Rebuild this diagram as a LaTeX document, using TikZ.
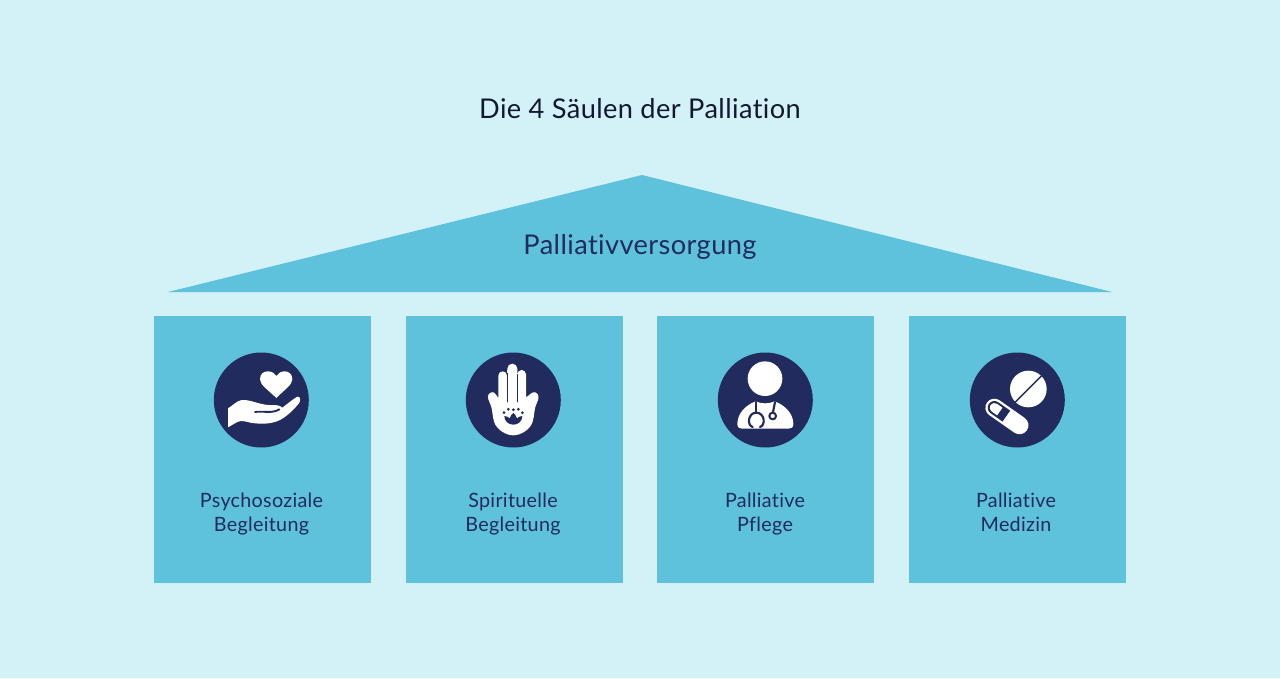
\documentclass[tikz,border=0pt]{standalone}
\usepackage{fontspec}
\setmainfont[Ligatures=NoCommon,LetterSpace=1.5]{Lato}
\definecolor{bgc}{HTML}{D3F2F8}
\definecolor{tile}{HTML}{5FC2DD}
\definecolor{navy}{HTML}{212B5E}
\definecolor{ink}{HTML}{14182E}
\tikzset{
  pillar/.style={fill=tile,draw=none,minimum width=162.75pt,minimum height=200.25pt,inner sep=0pt,outer sep=0pt},
  disc/.style={circle,fill=navy,draw=none,minimum size=71.25pt,inner sep=0pt},
  plabel/.style={text=navy,align=center,font=\fontsize{14.8pt}{18.2pt}\selectfont,text depth=0pt},
  bigtext/.style={font=\fontsize{20.4pt}{24pt}\selectfont},
  icon/.style={x=0.25pt,y=-0.25pt},
  wh/.style={fill=white,draw=none},
  dk/.style={fill=navy,draw=none},
  dkl/.style={draw=navy,fill=none,line cap=round}
}
\begin{document}
\begin{tikzpicture}[x=0.75pt,y=-0.75pt]
\useasboundingbox (0,0) rectangle (1280,678);
\fill[bgc] (0,0) rectangle (1280,678);
\node[text=ink,bigtext] (title) at (640,108.7) {Die 4 Säulen der Palliation};
\fill[tile] (642,175) -- (1112,292) -- (168,292) -- cycle;
\node[text=navy,bigtext] (roof) at (640,247) {Palliativversorgung};
\node[pillar] (p1) at (262.25,449.5) {};
\node[pillar] (p2) at (514,449.5) {};
\node[pillar] (p3) at (765.75,449.5) {};
\node[pillar] (p4) at (1017.5,449.5) {};
\node[disc] (d1) at (261.3,400) {};
\node[disc] (d2) at (513.3,400) {};
\node[disc] (d3) at (765.3,400) {};
\node[disc] (d4) at (1017.3,400) {};
\node[plabel] (l1) at (261.5,512.3) {Psychosoziale\\Begleitung};
\node[plabel] (l2) at (513,512.3) {Spirituelle\\Begleitung};
\node[plabel] (l3) at (765,512.3) {Palliative\\Pflege};
\node[plabel] (l4) at (1016,512.3) {Palliative\\Medizin};
% hand + heart
\begin{scope}[shift={(200,340)},icon]
\fill[wh] (229,174) .. controls (205,150) and (180,135) .. (180,118) .. controls (180,100) and (192,94) .. (204,94) .. controls (215,94) and (224,100) .. (229,108) .. controls (234,100) and (243,94) .. (254,94) .. controls (266,94) and (277,102) .. (277,118) .. controls (277,135) and (252,150) .. (229,174) -- cycle;
\fill[wh] (84,262) -- (84,205) .. controls (100,195) and (110,183) .. (125,180) .. controls (150,178) and (175,193) .. (205,195) .. controls (222,195) and (240,194) .. (247,203) .. controls (258,195) and (280,176) .. (292,170) .. controls (302,169) and (303,183) .. (296,191) .. controls (280,210) and (262,228) .. (240,240) .. controls (215,252) and (190,252) .. (165,250) .. controls (140,248) and (125,237) .. (110,247) -- cycle;
\draw[navy,line width=1.4pt,line cap=round] (165,216) .. controls (190,212) and (215,222) .. (238,208);
\end{scope}
% hamsa
\begin{scope}[shift={(452,340)},icon]
\fill[wh] (139,107) arc[start angle=180,end angle=360,radius=13] -- (166,86) arc[start angle=180,end angle=360,radius=15] -- (196,103) arc[start angle=180,end angle=360,radius=13] -- (222,172) .. controls (232,167) and (240,153) .. (250,157) .. controls (262,162) and (262,175) .. (254,190) .. controls (246,205) and (248,225) .. (242,245) .. controls (234,270) and (205,286) .. (184,286) .. controls (163,286) and (134,270) .. (126,245) .. controls (120,225) and (122,205) .. (114,190) .. controls (106,175) and (104,162) .. (118,157) .. controls (128,153) and (133,167) .. (139,174) -- cycle;
\draw[navy,line width=0.7pt,line cap=round] (166,100) -- (166,186);
\draw[navy,line width=0.7pt,line cap=round] (196,104) -- (196,186);
\foreach \p in {(156,218),(169,208),(184,209),(199,208),(211,218)} \fill[navy] \p circle[radius=4.5];
\fill[dk] (157,228) .. controls (164,229) and (170,231) .. (173,235) .. controls (175,228) and (180,222) .. (184,219) .. controls (188,222) and (193,228) .. (195,235) .. controls (198,231) and (204,229) .. (211,228) .. controls (211,243) and (199,254) .. (184,254) .. controls (169,254) and (157,243) .. (157,228) -- cycle;
\end{scope}
% doctor
\begin{scope}[shift={(704,340)},icon]
\fill[wh] (183,116) circle[radius=52];
\fill[wh] (100,252) .. controls (100,220) and (125,195) .. (155,184) .. controls (172,192) and (195,192) .. (212,184) .. controls (242,195) and (268,220) .. (268,252) .. controls (268,262) and (262,266) .. (254,266) -- (114,266) .. controls (106,266) and (100,262) .. (100,252) -- cycle;
\draw[dkl,line width=1.6pt] (157,186) -- (157,218);
\draw[dkl,line width=1.6pt] (146,261) .. controls (128,256) and (132,218) .. (157,218) .. controls (182,218) and (186,256) .. (168,261);
\draw[dkl,line width=1.6pt] (213,186) -- (207,216);
\draw[navy,fill=white,line width=1.5pt] (206,228) circle[radius=10];
\end{scope}
% pills
\begin{scope}[shift={(956,340)},icon]
\fill[wh] (217,147) circle[radius=55];
\draw[navy,line width=1.1pt] (176,188) -- (258,106);
\begin{scope}[shift={(115,203)},rotate=-35]
\fill[wh] (0,-27) -- (92,-27) arc[start angle=-90,end angle=90,radius=27] -- (0,27) arc[start angle=90,end angle=270,radius=27] -- cycle;
\fill[dk] (0,-20) -- (44,-20) -- (44,20) -- (0,20) arc[start angle=90,end angle=270,radius=20] -- cycle;
\fill[wh] (0,-14) -- (20,-14) -- (20,14) -- (0,14) arc[start angle=90,end angle=270,radius=14] -- cycle;
\end{scope}
\end{scope}
\end{tikzpicture}
\end{document}
